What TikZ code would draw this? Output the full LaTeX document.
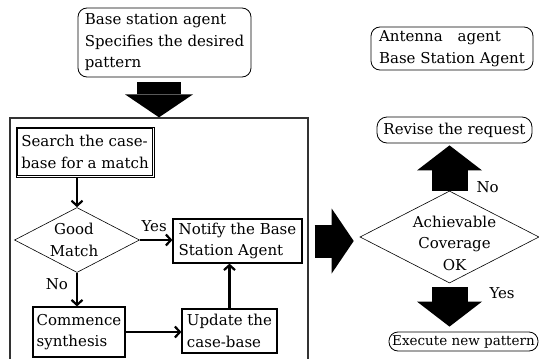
\documentclass[tikz,border=0pt]{standalone}
\usepackage{fontspec}
\setmainfont{DejaVu Serif}
\usetikzlibrary{arrows.meta, positioning, shapes.geometric, calc}

\newcommand{\flowfont}{\fontsize{15}{21.5}\selectfont}

\tikzset{
  box/.style={rectangle, draw, line width=1.2pt, inner xsep=3pt, inner ysep=1pt,
              align=left, font=\flowfont},
  rbox/.style={box, line width=0.8pt, rounded corners=9pt},
  dbox/.style={diamond, draw, line width=0.6pt, inner sep=0pt},
  dtext/.style={align=center, font=\flowfont, inner sep=0pt},
  arr/.style={-{Straight Barb[length=5pt, width=11pt]}, line width=2.2pt},
  lbl/.style={font=\flowfont, inner sep=1pt, outer sep=0pt},
}

\begin{document}
\begin{tikzpicture}[x=1pt, y=-1pt,
  casebox/.style={rectangle, draw=black!80, line width=1.3pt},
  fatdown/.style={-{Triangle[length=23pt, width=68pt, line width=0pt]}, line width=44pt},
  fatright/.style={-{Triangle[length=22pt, width=65pt, line width=0pt]}, line width=33pt},
  fatvert/.style={-{Triangle[length=25pt, width=65pt, line width=0pt]}, line width=36pt},
]
  \clip (0,0) rectangle (539,359);

  \node[rbox, minimum width=173pt, minimum height=69pt] (bsagent)
    at (164.5,42.5) {Base station agent\\Specifies the desired\\pattern};

  \node[casebox, minimum width=298pt, minimum height=246pt] (frame) at (159,241) {};

  \node[box, line width=0.7pt, minimum width=138pt, minimum height=50pt]
    (search) at (85,152) {Search the case-\\base for a match};
  \draw[line width=0.7pt] ($(search.north west)+(2,2)$) rectangle ($(search.south east)+(-2,-2)$);
  \node[dbox, minimum width=125pt, minimum height=65pt,
        label={[dtext, xshift=-3pt]center:Good\\Match}] (good) at (77,240) {};
  \node[box, minimum width=129pt, minimum height=44pt] (notify)
    at (237.5,241) {Notify the Base\\Station Agent};
  \node[box, minimum width=92pt, minimum height=50pt] (synth)
    at (79,332) {Commence\\synthesis};
  \node[box, minimum width=95pt, minimum height=44pt] (update)
    at (229.5,331) {Update the\\case-base};

  \node[rbox, minimum width=162pt, minimum height=43pt] (antenna)
    at (452,48.5) {Antenna\quad agent\\Base Station Agent};
  \node[rbox, rounded corners=10pt, minimum width=155pt, minimum height=26pt]
    (revise) at (454.5,130) {Revise the request};
  \node[dbox, minimum width=179pt, minimum height=92pt,
        label={[dtext, xshift=5pt, yshift=-6pt]center:Achievable\\Coverage\\OK}] (achieve)
    at (449.5,237) {};
  \node[rbox, minimum width=149pt, minimum height=19pt, inner xsep=1.5pt, inner ysep=0pt,
        font=\fontsize{13.5}{16}\selectfont]
    (execute) at (463.5,341.5) {Execute new pattern};

  \draw[arr] (search.south -| good.north) -- (good.north);
  \draw[arr] (good.east) -- node[lbl, above=7pt, xshift=-2pt]{Yes} (notify.west |- good.east);
  \draw[arr] (good.south) -- node[lbl, left=8pt, pos=0.35]{No} (synth.north -| good.south);
  \draw[arr] (synth.east) -- (synth.east -| update.west);
  \draw[arr] (update.north) -- (update.north |- notify.south);

  \draw[fatdown] ($(bsagent.south -| frame.north)+(0,5)$) -- (frame.north);
  \draw[fatright] ($(frame.east |- achieve.west)+(6,4)$) -- ($(achieve.west)+(-6,4)$);
  \draw[fatvert] (achieve.north) -- node[lbl, pos=0.08, right=26pt]{No}
    ($(achieve.north |- revise.south)+(0,2)$);
  \draw[fatvert] ($(achieve.south)+(0,4)$) -- node[lbl, pos=0.15, right=39pt]{Yes}
    ($(achieve.south |- execute.north)+(0,-5)$);
\end{tikzpicture}
\end{document}
